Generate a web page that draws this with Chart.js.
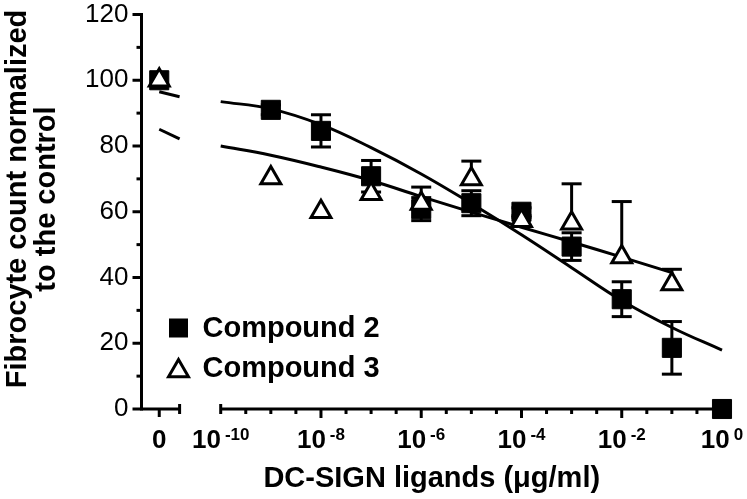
<!DOCTYPE html>
<html>
<head>
<meta charset="utf-8">
<script src="https://cdn.jsdelivr.net/npm/chart.js@4.4.1/dist/chart.umd.min.js"></script>
<style>
    html, body { margin: 0; padding: 0; background: #fff; }
    #wrap { width: 747px; height: 499px; }
</style>
</head>
<body>
<div id="wrap"><canvas id="myChart" width="747" height="499"></canvas></div>
<script>
// doses are log10 of the concentration (ug/ml)
const doseExp2 = [-9, -8, -7, -6, -5, -4, -3, -2, -1, 0];
const mean2 = [91, 84.6, 70.8, 60.8, 62.6, 60, 49.4, 33.4, 18.6, 0];
const sd2 = [1.5, 4.9, 4.8, 3.5, 3.8, 1.2, 4.2, 5.3, 8, 0];

const doseExp3 = [-9, -8, -7, -6, -5, -4, -3, -2, -1];
const mean3 = [70.3, 60, 65.5, 62.5, 70, 57.3, 56.5, 46.2, 38];
const sdUp3 = [0, 0, 0, 5, 5.4, 1, 12, 16.9, 4.5]; // only the upper bar is shown

const control2 = 100;
const control3 = 100;

// fitted curves, read at every decade
const fitExp = [-10, -9, -8, -7, -6, -5, -4, -3, -2, -1, 0];
const fit2 = [93.5, 91.3, 86.5, 79.5, 71.5, 62.5, 53, 43, 33, 24.8, 17.9];
const fit3 = [80, 77.2, 73.6, 69.5, 64.6, 59.9, 55.3, 50.8, 46.2, 41.5];
// short pieces of the curves over the "0" part of the axis
const stub2 = [96.5, 95];
const stub3 = [85.1, 82.2];

const xTickExp = [-10, -8, -6, -4, -2, 0];
const yTicks = [0, 20, 40, 60, 80, 100, 120];

// broken x axis: the control ("0") sits on its own small piece left of 10^-10
const xMin = -11.58;
const zeroPos = -11.226;
const leftEnd = -10.82;
const logStart = -10;

const FONT = '"Liberation Sans", Arial, Helvetica, sans-serif';

function pts(xs, ys) {
    return ys.map((v, i) => ({ x: xs[i], y: v }));
}

function seg(ctx, x1, y1, x2, y2) {
    ctx.beginPath();
    ctx.moveTo(x1, y1);
    ctx.lineTo(x2, y2);
    ctx.stroke();
}

const axisPlugin = {
    id: 'brokenAxis',
    beforeDatasetsDraw(chart) {
        const { ctx, chartArea } = chart;
        const x = chart.scales.x, y = chart.scales.y;
        const y0 = y.getPixelForValue(0);
        const ax = chartArea.left;
        ctx.save();
        ctx.strokeStyle = '#000';
        ctx.lineWidth = 3;

        // y axis + ticks (minor every 10)
        seg(ctx, ax, y.getPixelForValue(120) - 1.5, ax, y0 + 1.5);
        for (let v = 0; v <= 120; v += 10) {
            const py = y.getPixelForValue(v);
            seg(ctx, ax, py, ax - (v % 20 === 0 ? 9 : 5), py);
        }

        // x axis, two pieces
        seg(ctx, ax, y0, x.getPixelForValue(leftEnd), y0);
        seg(ctx, x.getPixelForValue(logStart), y0, x.getPixelForValue(0), y0);
        seg(ctx, x.getPixelForValue(leftEnd), y0 - 5, x.getPixelForValue(leftEnd), y0 + 5);
        seg(ctx, x.getPixelForValue(logStart), y0 - 5, x.getPixelForValue(logStart), y0 + 5);
        seg(ctx, x.getPixelForValue(zeroPos), y0, x.getPixelForValue(zeroPos), y0 + 8);
        for (let e = logStart + 0.5; e <= 0; e += 0.5) {
            const px = x.getPixelForValue(e);
            seg(ctx, px, y0, px, y0 + (e % 2 === 0 ? 9 : 5));
        }

        // error bars
        const bar = (xv, lo, hi) => {
            const px = x.getPixelForValue(xv);
            const p1 = y.getPixelForValue(lo), p2 = y.getPixelForValue(hi);
            seg(ctx, px, p1, px, p2);
            seg(ctx, px - 10, p1, px + 10, p1);
            seg(ctx, px - 10, p2, px + 10, p2);
        };
        doseExp2.forEach((e, i) => {
            if (sd2[i] > 0) bar(e, mean2[i] - sd2[i], mean2[i] + sd2[i]);
        });
        doseExp3.forEach((e, i) => {
            if (sdUp3[i] > 0) {
                const px = x.getPixelForValue(e);
                const p1 = y.getPixelForValue(mean3[i]), p2 = y.getPixelForValue(mean3[i] + sdUp3[i]);
                seg(ctx, px, p1, px, p2);
                seg(ctx, px - 10, p2, px + 10, p2);
            }
        });
        ctx.restore();
    },
    afterDraw(chart) {
        const { ctx, chartArea } = chart;
        const x = chart.scales.x, y = chart.scales.y;
        const y0 = y.getPixelForValue(0);
        ctx.save();
        ctx.fillStyle = '#000';

        // x tick labels: "0" and 10 with superscript exponent
        ctx.textBaseline = 'alphabetic';
        ctx.textAlign = 'center';
        ctx.font = 'bold 26px ' + FONT;
        ctx.fillText('0', x.getPixelForValue(zeroPos), y0 + 39);
        xTickExp.forEach(e => {
            ctx.font = 'bold 26px ' + FONT;
            const wBase = ctx.measureText('10').width;
            ctx.font = 'bold 17px ' + FONT;
            const sup = String(e);
            const wSup = ctx.measureText(sup).width;
            const gap = 4;
            const left = x.getPixelForValue(e) - (wBase + gap + wSup) / 2;
            ctx.textAlign = 'left';
            ctx.font = 'bold 26px ' + FONT;
            ctx.fillText('10', left, y0 + 39);
            ctx.font = 'bold 17px ' + FONT;
            ctx.fillText(sup, left + wBase + gap, y0 + 31);
        });

        // y axis title, two lines
        ctx.save();
        ctx.translate(18, 199);
        ctx.rotate(-Math.PI / 2);
        ctx.textAlign = 'center';
        ctx.textBaseline = 'middle';
        ctx.font = 'bold 29px ' + FONT;
        ctx.fillText('Fibrocyte count normalized', 0, 0);
        ctx.fillText('to the control', 0, 29);
        ctx.restore();

        // legend
        const lx = chartArea.left + 37;
        const ly2 = y0 - 81, ly3 = y0 - 38;
        ctx.fillRect(lx - 9.5, ly2 - 9.5, 19, 19);
        const r = 11.5;
        ctx.beginPath();
        ctx.moveTo(lx, ly3 - r);
        ctx.lineTo(lx + r * Math.sin(2 * Math.PI / 3), ly3 + r / 2);
        ctx.lineTo(lx - r * Math.sin(2 * Math.PI / 3), ly3 + r / 2);
        ctx.closePath();
        ctx.fillStyle = '#fff';
        ctx.fill();
        ctx.lineWidth = 3;
        ctx.strokeStyle = '#000';
        ctx.stroke();
        ctx.fillStyle = '#000';
        ctx.font = 'bold 29px ' + FONT;
        ctx.textAlign = 'left';
        ctx.textBaseline = 'middle';
        ctx.fillText('Compound 2', lx + 24, ly2 + 1);
        ctx.fillText('Compound 3', lx + 24, ly3 - 2);
        ctx.restore();
    }
};

const ctx = document.getElementById('myChart');

const curve = {
    showLine: true,
    pointRadius: 0,
    borderColor: '#000',
    borderWidth: 3,
    order: 2
};

new Chart(ctx, {
    type: 'scatter',
    data: {
        datasets: [{
            label: 'Compound 3',
            data: [{ x: zeroPos, y: control3 }].concat(pts(doseExp3, mean3)),
            pointStyle: 'triangle',
            pointRadius: 11.5,
            pointBackgroundColor: '#fff',
            pointBorderColor: '#000',
            pointBorderWidth: 3,
            clip: false,
            order: 0
        }, {
            label: 'Compound 2',
            data: [{ x: zeroPos, y: control2 }].concat(pts(doseExp2, mean2)),
            pointStyle: 'rect',
            pointRadius: 13.5,
            pointBackgroundColor: '#000',
            pointBorderColor: '#000',
            pointBorderWidth: 1,
            clip: false,
            order: 1
        },
        Object.assign({ label: 'fit 2', data: pts(fitExp, fit2), tension: 0.4, clip: false }, curve),
        Object.assign({ label: 'fit 3', data: pts(fitExp, fit3), tension: 0.4, clip: false }, curve),
        Object.assign({ label: 'fit 2 (0)', data: pts([zeroPos, leftEnd], stub2) }, curve),
        Object.assign({ label: 'fit 3 (0)', data: pts([zeroPos, leftEnd], stub3) }, curve)
        ]
    },
    options: {
        responsive: false,
        animation: false,
        events: [],
        layout: { padding: { top: 11, right: 25, bottom: 0, left: 0 } },
        plugins: {
            legend: { display: false },
            tooltip: { enabled: false }
        },
        scales: {
            x: {
                type: 'linear',
                min: xMin,
                max: 0,
                grid: { display: false, drawTicks: false },
                border: { display: false },
                ticks: { display: false },
                title: {
                    display: true,
                    text: 'DC-SIGN ligands (\u03bcg/ml)',
                    color: '#000',
                    font: { family: FONT, size: 29, weight: 'bold' },
                    padding: { top: 0, bottom: 3 }
                },
                afterFit(s) {
                    s.height = 90;
                    s.paddingLeft = 0;
                    s.paddingRight = 0;
                }
            },
            y: {
                min: 0,
                max: 120,
                afterBuildTicks(s) {
                    s.ticks = yTicks.map(v => ({ value: v }));
                },
                grid: { display: false, drawTicks: false },
                border: { display: false },
                ticks: {
                    color: '#000',
                    padding: 13,
                    font: { family: FONT, size: 26 }
                },
                afterFit(s) {
                    s.width = 141.5;
                    s.paddingTop = 0;
                    s.paddingBottom = 0;
                }
            }
        }
    },
    plugins: [axisPlugin]
});
</script>
</body>
</html>
